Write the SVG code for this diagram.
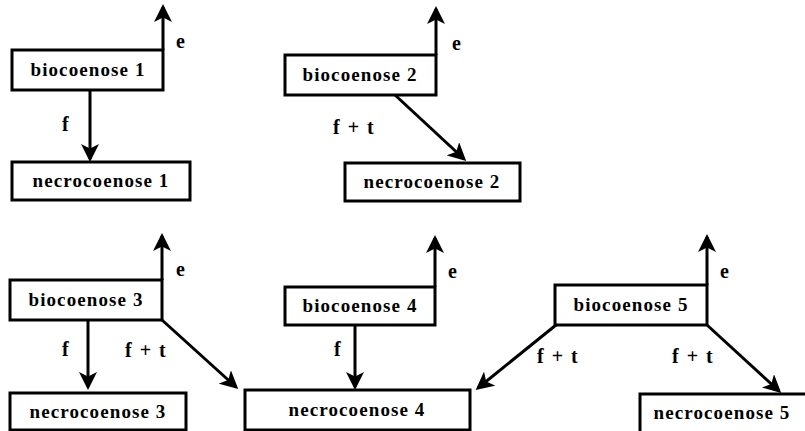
<svg xmlns="http://www.w3.org/2000/svg" width="805" height="431" viewBox="0 0 805 431">
<defs>
<marker id="ah" markerWidth="6" markerHeight="6" refX="5" refY="3" orient="auto" markerUnits="strokeWidth">
<path d="M0,0 L6,3 L0,6 L1.5,3 Z" fill="#000"/>
</marker>
<style>
.box{fill:#fff;stroke:#000;stroke-width:3}
.t{font-family:"Liberation Serif",serif;font-weight:bold;font-size:19px;letter-spacing:1.1px;text-anchor:middle;fill:#000}
.l{font-family:"Liberation Serif",serif;font-weight:bold;font-size:20px;word-spacing:3px;fill:#000}
.c{stroke:#000;stroke-width:3;fill:none;marker-end:url(#ah)}
</style>
</defs>
<rect width="805" height="431" fill="#fff"/>
<g id="connectors">
<path class="c" d="M163,50 V7"/>
<path class="c" d="M90,90 V159"/>
<path class="c" d="M436,55 V9"/>
<path class="c" d="M395,95 L464,159"/>
<path class="c" d="M162,280 V236"/>
<path class="c" d="M88,320 V387"/>
<path class="c" d="M162,320 L236,387"/>
<path class="c" d="M435,287 V238"/>
<path class="c" d="M355,325 V387"/>
<path class="c" d="M707,285 V237"/>
<path class="c" d="M556,325 L478,388"/>
<path class="c" d="M707,325 L779,391"/>
</g>
<g id="labels">
<text class="l" x="176" y="48">e</text>
<text class="l" x="62" y="131">f</text>
<text class="l" x="452" y="50">e</text>
<text class="l" x="333" y="134">f + t</text>
<text class="l" x="176" y="276">e</text>
<text class="l" x="62" y="356">f</text>
<text class="l" x="125" y="357">f + t</text>
<text class="l" x="448" y="278">e</text>
<text class="l" x="334" y="356">f</text>
<text class="l" x="720" y="278">e</text>
<text class="l" x="537" y="363">f + t</text>
<text class="l" x="672" y="363">f + t</text>
</g>
<g id="b1"><rect class="box" x="12" y="50" width="151" height="40"/><text class="t" x="88" y="76">biocoenose 1</text></g>
<g id="n1"><rect class="box" x="12" y="162" width="178" height="38"/><text class="t" x="101" y="187">necrocoenose 1</text></g>
<g id="b2"><rect class="box" x="285" y="55" width="151" height="40"/><text class="t" x="360" y="81">biocoenose 2</text></g>
<g id="n2"><rect class="box" x="345" y="163" width="175" height="38"/><text class="t" x="432" y="188">necrocoenose 2</text></g>
<g id="b3"><rect class="box" x="10" y="280" width="152" height="40"/><text class="t" x="86" y="306">biocoenose 3</text></g>
<g id="n3"><rect class="box" x="10" y="393" width="176" height="37"/><text class="t" x="98" y="418">necrocoenose 3</text></g>
<g id="b4"><rect class="box" x="285" y="287" width="150" height="38"/><text class="t" x="360" y="312">biocoenose 4</text></g>
<g id="n4"><rect class="box" x="245" y="390" width="225" height="40"/><text class="t" x="357" y="416">necrocoenose 4</text></g>
<g id="b5"><rect class="box" x="555" y="285" width="152" height="40"/><text class="t" x="631" y="311">biocoenose 5</text></g>
<g id="n5"><rect class="box" x="640" y="394" width="170" height="45"/><text class="t" x="722" y="419">necrocoenose 5</text></g>
</svg>
